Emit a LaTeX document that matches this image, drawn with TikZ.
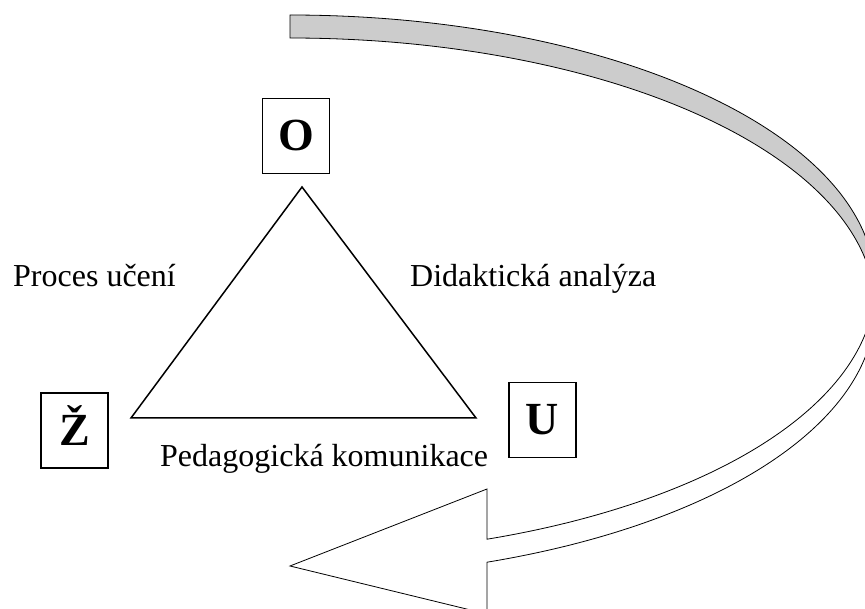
\documentclass[tikz,border=0pt]{standalone}
\usepackage{fontspec}
\setmainfont{Liberation Serif}
\tikzset{
  corner/.style={draw,line width=1.5pt,minimum width=67pt,minimum height=75pt,inner sep=0pt,
    text height=30pt,text depth=0pt,font=\fontsize{46}{50}\selectfont\bfseries},
  edgetext/.style={inner sep=0pt,anchor=base west,font=\fontsize{32}{38}\selectfont}
}
\begin{document}
\begin{tikzpicture}[x=1pt,y=1pt]
  \useasboundingbox (0,0) rectangle (865,609);
  \fill[white] (0,0) rectangle (865,609);
  \clip (0,0) rectangle (865,609);
  \draw[fill=black!20,line width=0.8pt,samples=100,variable=\t]
    plot[domain=90:0] ({290+585*cos(\t)},{324+270*sin(\t)})
    -- plot[domain=0:90] ({290+585*cos(\t)},{301+270*sin(\t)}) -- cycle;
  \draw[fill=white,line width=0.8pt,samples=100,variable=\t]
    plot[domain=0:-70.32] ({290+585*cos(\t)},{324+270*sin(\t)})
    -- (487,120) -- (290,43) -- (487,-5)
    -- plot[domain=-70.32:0] ({290+585*cos(\t)},{301+270*sin(\t)}) -- cycle;
  \node[corner] (O) at (296,473) {O};
  \node[corner] (Z) at (74.5,178.5) {Ž};
  \node[corner] (U) at (542.5,189) {U};
  \coordinate (tO) at (302,422);
  \coordinate (tZ) at (131,191);
  \coordinate (tU) at (476,191);
  \draw[line width=1.5pt] (tO) -- (tZ) -- (tU) -- cycle;
  \node[edgetext] (proces) at (13,322) {Proces učení};
  \node[edgetext] (analyza) at (410,322) {Didaktická analýza};
  \node[edgetext] (komunikace) at (160,142) {Pedagogická komunikace};
\end{tikzpicture}
\end{document}
